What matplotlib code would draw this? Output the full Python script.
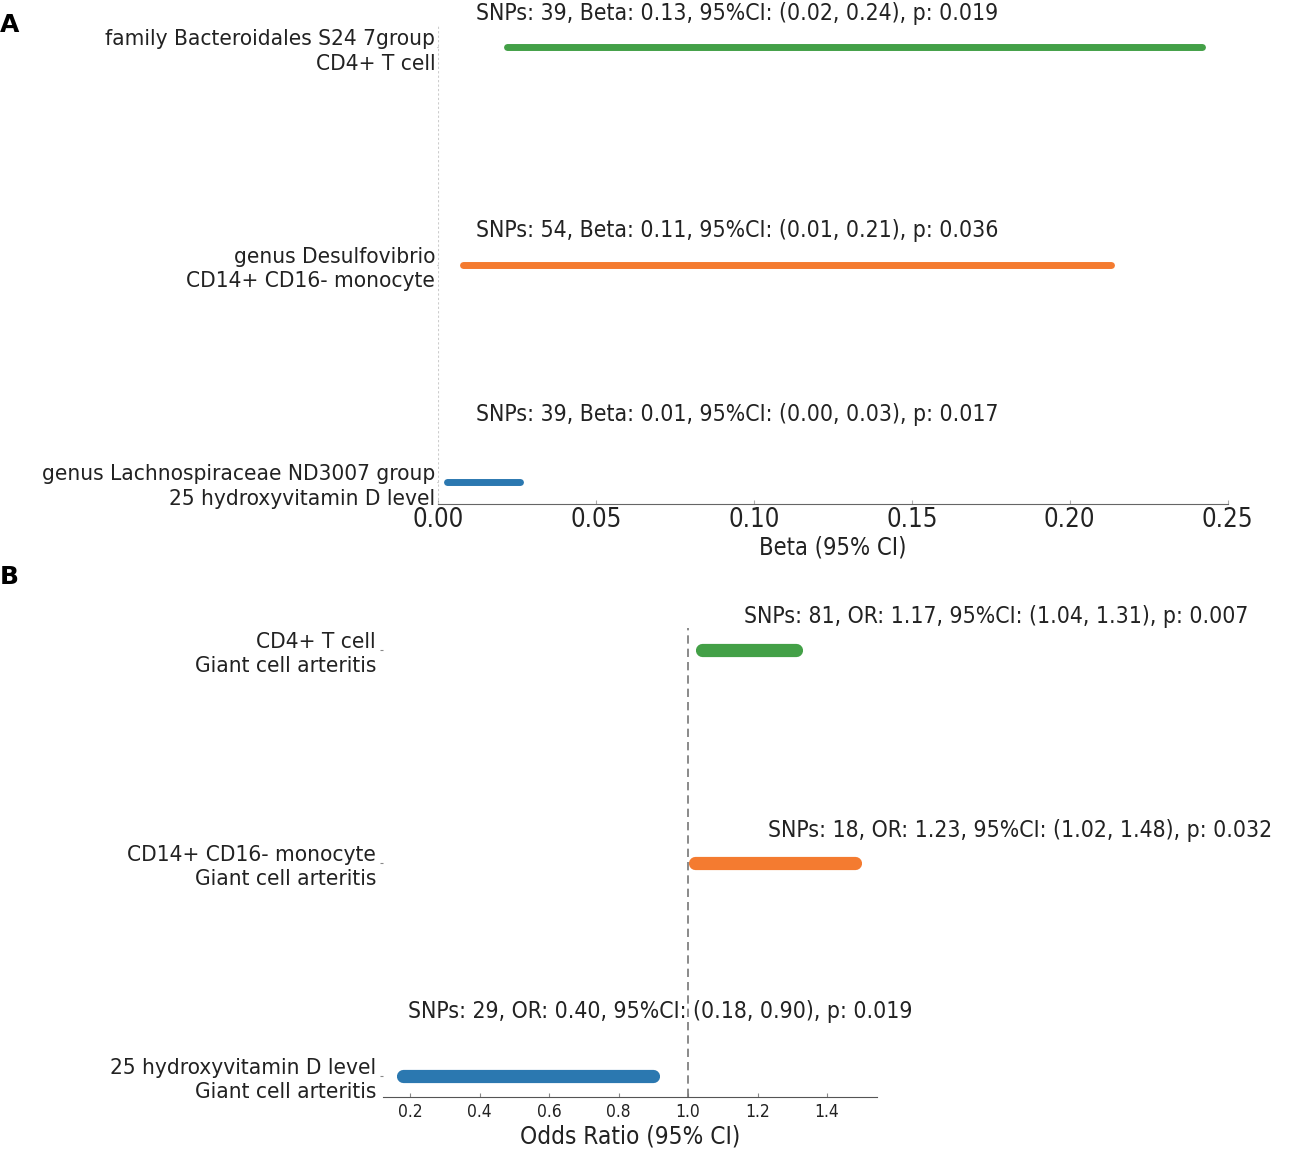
import matplotlib
matplotlib.use("Agg")
import matplotlib.pyplot as plt
from matplotlib import font_manager

# panel A: microbiota -> immune cell / vitamin D (beta)
a_labels = ["genus Lachnospiraceae ND3007 group\n25 hydroxyvitamin D level",
            "genus Desulfovibrio\nCD14+ CD16- monocyte",
            "family Bacteroidales S24 7group\nCD4+ T cell"]
a_snps = [39, 54, 39]
a_beta = [0.01, 0.11, 0.13]
a_lo = [0.003, 0.008, 0.022]
a_hi = [0.026, 0.213, 0.242]
a_lo_txt = [0.00, 0.01, 0.02]
a_hi_txt = [0.03, 0.21, 0.24]
a_p = ["0.017", "0.036", "0.019"]

# panel B: immune cell / vitamin D -> giant cell arteritis (OR)
b_labels = ["25 hydroxyvitamin D level\nGiant cell arteritis",
            "CD14+ CD16- monocyte\nGiant cell arteritis",
            "CD4+ T cell\nGiant cell arteritis"]
b_snps = [29, 18, 81]
b_or = [0.40, 1.23, 1.17]
b_lo = [0.18, 1.02, 1.04]
b_hi = [0.90, 1.48, 1.31]
b_p = ["0.019", "0.032", "0.007"]

colors = ["#2b78b0", "#f47b30", "#43a047"]

# text placement (layout only)
a_text_x = [0.012, 0.012, 0.012]
a_text_dy = [0.31, 0.155, 0.155]
b_text_x = [0.195, 1.23, 1.16]
b_text_dy = [0.30, 0.15, 0.155]

try:
    fp = font_manager.FontProperties(family="DejaVu Sans", stretch="condensed")
    if "Condensed" in font_manager.findfont(fp, fallback_to_default=False):
        plt.rcParams["font.stretch"] = "condensed"
except Exception:
    pass
plt.rcParams["font.family"] = "DejaVu Sans"
txt_col = "#222222"

fig = plt.figure(figsize=(12.97, 11.5), dpi=100)

# ---------- panel A ----------
axA = fig.add_axes([0.3377, 0.5617, 0.6088, 0.4165])
for i in range(3):
    axA.plot([a_lo[i], a_hi[i]], [i, i], color=colors[i], lw=5,
             solid_capstyle="round")
    axA.text(a_text_x[i], i + a_text_dy[i],
             f"SNPs: {a_snps[i]}, Beta: {a_beta[i]:.2f}, 95%CI: "
             f"({a_lo_txt[i]:.2f}, {a_hi_txt[i]:.2f}), p: {a_p[i]}",
             fontsize=16.5, color=txt_col, va="center")
axA.axvline(0, color="#cccccc", lw=0.8, ls=(0, (2, 2)))
axA.set_xlim(0, 0.25)
axA.set_ylim(-0.1, 2.1)
axA.set_yticks(range(3))
axA.set_yticklabels(a_labels, fontsize=16.2, color=txt_col, linespacing=1.3)
axA.set_xticks([0, 0.05, 0.10, 0.15, 0.20, 0.25])
axA.set_xticklabels(["0.00", "0.05", "0.10", "0.15", "0.20", "0.25"])
axA.tick_params(axis="x", labelsize=18.5, direction="in", length=3,
                color="#aaaaaa", labelcolor=txt_col, pad=2)
axA.tick_params(axis="y", length=1, color="#aaaaaa", pad=1)
axA.set_xlabel("Beta (95% CI)", fontsize=17, color=txt_col, labelpad=2)
for s in ["top", "right", "left"]:
    axA.spines[s].set_visible(False)
axA.spines["bottom"].set_color("#666666")

# ---------- panel B ----------
axB = fig.add_axes([0.2953, 0.0461, 0.3809, 0.4075])
for i in range(3):
    axB.plot([b_lo[i], b_hi[i]], [i, i], color=colors[i], lw=9.5,
             solid_capstyle="round")
    axB.text(b_text_x[i], i + b_text_dy[i],
             f"SNPs: {b_snps[i]}, OR: {b_or[i]:.2f}, 95%CI: "
             f"({b_lo[i]:.2f}, {b_hi[i]:.2f}), p: {b_p[i]}",
             fontsize=16.5, color=txt_col, va="center")
axB.axvline(1.0, color="#777777", lw=1.2, ls=(0, (5, 3)))
axB.set_xlim(0.122, 1.544)
axB.set_ylim(-0.1, 2.1)
axB.set_yticks(range(3))
axB.set_yticklabels(b_labels, fontsize=16.2, color=txt_col, linespacing=1.3)
axB.set_xticks([0.2, 0.4, 0.6, 0.8, 1.0, 1.2, 1.4])
axB.tick_params(axis="x", labelsize=12.5, direction="in", length=3,
                color="#888888", labelcolor=txt_col, pad=4)
axB.tick_params(axis="y", length=2, color="#888888", pad=3)
axB.set_xlabel("Odds Ratio (95% CI)", fontsize=17.5, color=txt_col, labelpad=3)
for s in ["top", "right", "left"]:
    axB.spines[s].set_visible(False)
axB.spines["bottom"].set_color("#555555")

fig.text(0.0, 0.978, "A", fontsize=18, fontweight="bold", va="center",
         family="DejaVu Sans", stretch="normal")
fig.text(0.0, 0.498, "B", fontsize=18, fontweight="bold", va="center",
         family="DejaVu Sans", stretch="normal")

fig.savefig("out.png", dpi=100)
